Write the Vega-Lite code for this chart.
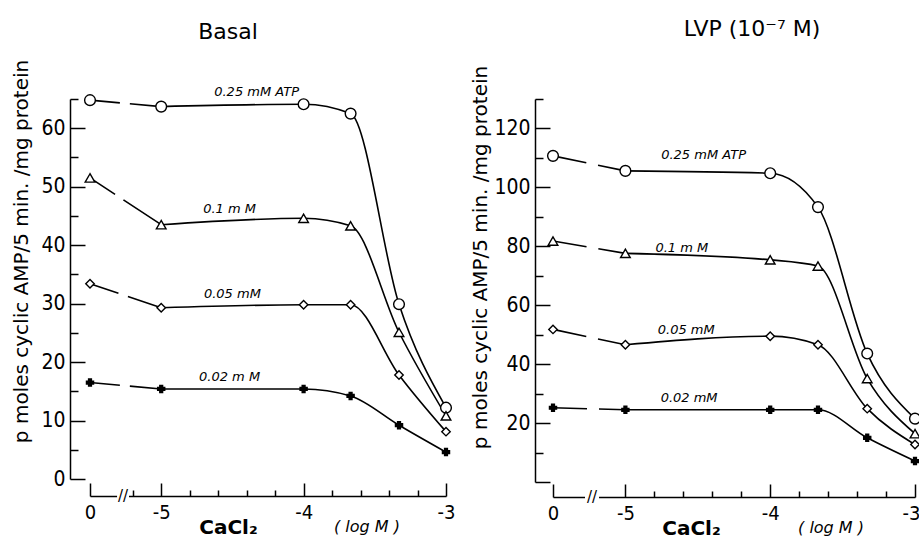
{
  "$schema": "https://vega.github.io/schema/vega-lite/v6.json",
  "padding": {"left": 10, "top": 17, "right": 0, "bottom": 0},
  "spacing": 14,
  "config": {
    "view": {"stroke": null},
    "font": "Liberation Sans Narrow, DejaVu Sans Condensed, DejaVu Sans",
    "axis": {
      "domainColor": "black", "tickColor": "black", "labelColor": "black", "titleColor": "black",
      "domainWidth": 1.5, "tickWidth": 1.5, "labelFontSize": 21, "grid": false,
      "labelFlush": false, "labelOverlap": false, "titleFontWeight": "normal",
      "labelFont": "Liberation Sans Narrow, DejaVu Sans Condensed, DejaVu Sans",
      "titleFont": "DejaVu Sans"
    },
    "title": {"fontSize": 22, "fontWeight": "normal", "font": "DejaVu Sans", "color": "black"}
  },
  "datasets": {
    "curves": [
      {"panel": "Basal", "atp": "0.25 mM ATP", "logCa": -5.5, "value": 64.8},
      {"panel": "Basal", "atp": "0.25 mM ATP", "logCa": -5, "value": 63.7},
      {"panel": "Basal", "atp": "0.25 mM ATP", "logCa": -4, "value": 64.1},
      {"panel": "Basal", "atp": "0.25 mM ATP", "logCa": -3.67, "value": 62.5},
      {"panel": "Basal", "atp": "0.25 mM ATP", "logCa": -3.33, "value": 29.9},
      {"panel": "Basal", "atp": "0.25 mM ATP", "logCa": -3, "value": 12.2},
      {"panel": "Basal", "atp": "0.1 mM", "logCa": -5.5, "value": 51.5},
      {"panel": "Basal", "atp": "0.1 mM", "logCa": -5, "value": 43.5},
      {"panel": "Basal", "atp": "0.1 mM", "logCa": -4, "value": 44.6},
      {"panel": "Basal", "atp": "0.1 mM", "logCa": -3.67, "value": 43.3},
      {"panel": "Basal", "atp": "0.1 mM", "logCa": -3.33, "value": 25.1},
      {"panel": "Basal", "atp": "0.1 mM", "logCa": -3, "value": 10.8},
      {"panel": "Basal", "atp": "0.05 mM", "logCa": -5.5, "value": 33.4},
      {"panel": "Basal", "atp": "0.05 mM", "logCa": -5, "value": 29.3},
      {"panel": "Basal", "atp": "0.05 mM", "logCa": -4, "value": 29.8},
      {"panel": "Basal", "atp": "0.05 mM", "logCa": -3.67, "value": 29.8},
      {"panel": "Basal", "atp": "0.05 mM", "logCa": -3.33, "value": 17.8},
      {"panel": "Basal", "atp": "0.05 mM", "logCa": -3, "value": 8.1},
      {"panel": "Basal", "atp": "0.02 mM", "logCa": -5.5, "value": 16.5},
      {"panel": "Basal", "atp": "0.02 mM", "logCa": -5, "value": 15.4},
      {"panel": "Basal", "atp": "0.02 mM", "logCa": -4, "value": 15.4},
      {"panel": "Basal", "atp": "0.02 mM", "logCa": -3.67, "value": 14.2},
      {"panel": "Basal", "atp": "0.02 mM", "logCa": -3.33, "value": 9.2},
      {"panel": "Basal", "atp": "0.02 mM", "logCa": -3, "value": 4.6},
      {"panel": "LVP", "atp": "0.25 mM ATP", "logCa": -5.5, "value": 110.7},
      {"panel": "LVP", "atp": "0.25 mM ATP", "logCa": -5, "value": 105.6},
      {"panel": "LVP", "atp": "0.25 mM ATP", "logCa": -4, "value": 104.8},
      {"panel": "LVP", "atp": "0.25 mM ATP", "logCa": -3.67, "value": 93.3},
      {"panel": "LVP", "atp": "0.25 mM ATP", "logCa": -3.33, "value": 43.6},
      {"panel": "LVP", "atp": "0.25 mM ATP", "logCa": -3, "value": 21.5},
      {"panel": "LVP", "atp": "0.1 mM", "logCa": -5.5, "value": 81.8},
      {"panel": "LVP", "atp": "0.1 mM", "logCa": -5, "value": 77.6},
      {"panel": "LVP", "atp": "0.1 mM", "logCa": -4, "value": 75.4},
      {"panel": "LVP", "atp": "0.1 mM", "logCa": -3.67, "value": 73.3},
      {"panel": "LVP", "atp": "0.1 mM", "logCa": -3.33, "value": 35.1},
      {"panel": "LVP", "atp": "0.1 mM", "logCa": -3, "value": 16.4},
      {"panel": "LVP", "atp": "0.05 mM", "logCa": -5.5, "value": 51.8},
      {"panel": "LVP", "atp": "0.05 mM", "logCa": -5, "value": 46.6},
      {"panel": "LVP", "atp": "0.05 mM", "logCa": -4, "value": 49.5},
      {"panel": "LVP", "atp": "0.05 mM", "logCa": -3.67, "value": 46.6},
      {"panel": "LVP", "atp": "0.05 mM", "logCa": -3.33, "value": 24.9},
      {"panel": "LVP", "atp": "0.05 mM", "logCa": -3, "value": 12.7},
      {"panel": "LVP", "atp": "0.02 mM", "logCa": -5.5, "value": 25.2},
      {"panel": "LVP", "atp": "0.02 mM", "logCa": -5, "value": 24.5},
      {"panel": "LVP", "atp": "0.02 mM", "logCa": -4, "value": 24.5},
      {"panel": "LVP", "atp": "0.02 mM", "logCa": -3.67, "value": 24.5},
      {"panel": "LVP", "atp": "0.02 mM", "logCa": -3.33, "value": 15.0},
      {"panel": "LVP", "atp": "0.02 mM", "logCa": -3, "value": 7.1}
    ],
    "labels": [
      {"panel": "Basal", "text": "0.25  mM   ATP", "logCa": -4.33, "value": 66.2},
      {"panel": "Basal", "text": "0.1  m M", "logCa": -4.52, "value": 46.2},
      {"panel": "Basal", "text": "0.05  mM", "logCa": -4.5, "value": 31.6},
      {"panel": "Basal", "text": "0.02  m M", "logCa": -4.52, "value": 17.4},
      {"panel": "LVP", "text": "0.25  mM  ATP", "logCa": -4.46, "value": 111.0},
      {"panel": "LVP", "text": "0.1  m M", "logCa": -4.61, "value": 79.4},
      {"panel": "LVP", "text": "0.05  mM", "logCa": -4.58, "value": 51.6},
      {"panel": "LVP", "text": "0.02  mM", "logCa": -4.56, "value": 28.5}
    ]
  },
  "hconcat": [
    {
      "width": 356,
      "height": 380,
      "title": {"text": "Basal", "dx": -40, "offset": 3},
      "data": {"name": "curves"},
      "transform": [{"filter": "datum.panel == 'Basal'"}],
      "encoding": {
        "x": {
          "field": "logCa", "type": "quantitative", "title": "CaCl₂",
          "scale": {"domain": [-5.5, -3], "nice": false, "zero": false},
          "axis": {
            "values": [-5.5, -5.2, -5, -4.8, -4.6, -4.4, -4.2, -4, -3.8, -3.6, -3.4, -3.2, -3],
            "labelExpr": "datum.value == -5.5 ? '0' : datum.value == -5 ? '-5' : datum.value == -4 ? '-4' : datum.value == -3 ? '-3' : ''",
            "tickSize": {"condition": {"test": "datum.value == round(datum.value) || datum.value == -5.5", "value": -13}, "value": -6},
            "labelPadding": 19, "offset": 17, "labelFontSize": 20,
            "titleX": 138, "titleY": 31, "titleBaseline": "middle", "titleAlign": "center",
            "titleFontWeight": "bold", "titleFontSize": 20
          }
        },
        "y": {
          "field": "value", "type": "quantitative", "title": "p moles  cyclic  AMP/5 min.  /mg  protein",
          "scale": {"domain": [0, 65], "nice": false, "zero": false},
          "axis": {
            "values": [0, 5, 10, 15, 20, 25, 30, 35, 40, 45, 50, 55, 60, 65],
            "labelExpr": "datum.value % 10 == 0 ? datum.label : ''",
            "tickSize": {"condition": {"test": "datum.value % 10 == 0", "value": -15}, "value": -8},
            "labelPadding": 20, "offset": 20,
            "titleX": -49, "titleY": 152, "titleAngle": -90, "titleAlign": "center", "titleBaseline": "middle",
            "titleFontSize": 20
          }
        }
      },
      "layer": [
        {
          "transform": [{"filter": "datum.logCa <= -5"}],
          "mark": {"type": "line", "color": "black", "strokeWidth": 1.6, "strokeDash": [30, 10, 200]},
          "encoding": {"detail": {"field": "atp"}}
        },
        {
          "transform": [{"filter": "datum.logCa >= -5"}],
          "mark": {"type": "line", "color": "black", "strokeWidth": 1.6, "interpolate": "monotone"},
          "encoding": {"detail": {"field": "atp"}}
        },
        {
          "mark": {"type": "point", "filled": true, "stroke": "black", "strokeWidth": 1.4, "opacity": 1},
          "encoding": {
            "shape": {"field": "atp", "scale": {"domain": ["0.25 mM ATP", "0.1 mM", "0.05 mM", "0.02 mM"], "range": ["circle", "triangle-up", "diamond", "cross"]}, "legend": null},
            "fill": {"field": "atp", "scale": {"domain": ["0.25 mM ATP", "0.1 mM", "0.05 mM", "0.02 mM"], "range": ["white", "white", "white", "black"]}, "legend": null},
            "size": {"field": "atp", "scale": {"domain": ["0.25 mM ATP", "0.1 mM", "0.05 mM", "0.02 mM"], "range": [115, 50, 90, 40]}, "legend": null}
          }
        },
        {
          "data": {"name": "labels"},
          "transform": [{"filter": "datum.panel == 'Basal'"}],
          "mark": {"type": "text", "fontStyle": "italic", "fontSize": 13, "font": "DejaVu Sans", "color": "black", "baseline": "middle"},
          "encoding": {"text": {"field": "text"}}
        },
        {
          "transform": [{"filter": "datum.atp == '0.02 mM' && datum.logCa == -3"}],
          "mark": {"type": "rule", "color": "white", "strokeWidth": 5},
          "encoding": {
            "x": {"datum": -5.31, "type": "quantitative"},
            "x2": {"datum": -5.226},
            "y": {"datum": -2.91, "type": "quantitative"}
          }
        },
        {
          "transform": [{"filter": "datum.atp == '0.02 mM' && datum.logCa == -3"}],
          "mark": {"type": "text", "text": "//", "fontSize": 15, "color": "black", "baseline": "middle", "font": "DejaVu Sans"},
          "encoding": {
            "x": {"datum": -5.268, "type": "quantitative"},
            "y": {"datum": -2.91, "type": "quantitative"}
          }
        },
        {
          "transform": [{"filter": "datum.atp == '0.02 mM' && datum.logCa == -3"}],
          "mark": {"type": "text", "text": "( log M )", "fontSize": 16, "fontStyle": "italic", "color": "black", "baseline": "middle", "font": "DejaVu Sans"},
          "encoding": {
            "x": {"datum": -3.555, "type": "quantitative"},
            "y": {"datum": -8.2, "type": "quantitative"}
          }
        }
      ]
    },
    {
      "width": 362,
      "height": 383,
      "title": {"text": "LVP  (10⁻⁷ M)", "dx": 18, "offset": 12},
      "data": {"name": "curves"},
      "transform": [{"filter": "datum.panel == 'LVP'"}],
      "encoding": {
        "x": {
          "field": "logCa", "type": "quantitative", "title": "CaCl₂",
          "scale": {"domain": [-5.5, -3], "nice": false, "zero": false},
          "axis": {
            "values": [-5.5, -5, -4.8, -4.6, -4.4, -4.2, -4, -3.8, -3.6, -3.4, -3.2, -3],
            "labelExpr": "datum.value == -5.5 ? '0' : datum.value == -5 ? '-5' : datum.value == -4 ? '-4' : datum.value == -3 ? '-3' : ''",
            "tickSize": {"condition": {"test": "datum.value == round(datum.value) || datum.value == -5.5", "value": -13}, "value": -6},
            "labelAlign": {"condition": {"test": "datum.value == -3", "value": "right"}, "value": "center"},
            "labelOffset": {"condition": {"test": "datum.value == -3", "value": 5}, "value": 0},
            "labelPadding": 19, "offset": 15, "labelFontSize": 20,
            "titleX": 138, "titleY": 31, "titleBaseline": "middle", "titleAlign": "center",
            "titleFontWeight": "bold", "titleFontSize": 20
          }
        },
        "y": {
          "field": "value", "type": "quantitative", "title": "p moles  cyclic  AMP/5 min.  /mg  protein",
          "scale": {"domain": [0, 130], "nice": false, "zero": false},
          "axis": {
            "values": [0, 10, 20, 30, 40, 50, 60, 70, 80, 90, 100, 110, 120, 130],
            "labelExpr": "datum.value % 20 == 0 && datum.value > 0 ? datum.label : ''",
            "tickSize": {"condition": {"test": "datum.value % 20 == 0", "value": -15}, "value": -8},
            "labelPadding": 20, "offset": 18,
            "titleX": -55, "titleY": 158, "titleAngle": -90, "titleAlign": "center", "titleBaseline": "middle",
            "titleFontSize": 20
          }
        }
      },
      "layer": [
        {
          "transform": [{"filter": "datum.logCa <= -5"}],
          "mark": {"type": "line", "color": "black", "strokeWidth": 1.6, "strokeDash": [34, 12, 200]},
          "encoding": {"detail": {"field": "atp"}}
        },
        {
          "transform": [{"filter": "datum.logCa >= -5"}],
          "mark": {"type": "line", "color": "black", "strokeWidth": 1.6, "interpolate": "monotone"},
          "encoding": {"detail": {"field": "atp"}}
        },
        {
          "mark": {"type": "point", "filled": true, "stroke": "black", "strokeWidth": 1.4, "opacity": 1},
          "encoding": {
            "shape": {"field": "atp", "scale": {"domain": ["0.25 mM ATP", "0.1 mM", "0.05 mM", "0.02 mM"], "range": ["circle", "triangle-up", "diamond", "cross"]}, "legend": null},
            "fill": {"field": "atp", "scale": {"domain": ["0.25 mM ATP", "0.1 mM", "0.05 mM", "0.02 mM"], "range": ["white", "white", "white", "black"]}, "legend": null},
            "size": {"field": "atp", "scale": {"domain": ["0.25 mM ATP", "0.1 mM", "0.05 mM", "0.02 mM"], "range": [115, 50, 90, 40]}, "legend": null}
          }
        },
        {
          "data": {"name": "labels"},
          "transform": [{"filter": "datum.panel == 'LVP'"}],
          "mark": {"type": "text", "fontStyle": "italic", "fontSize": 13, "font": "DejaVu Sans", "color": "black", "baseline": "middle"},
          "encoding": {"text": {"field": "text"}}
        },
        {
          "transform": [{"filter": "datum.atp == '0.02 mM' && datum.logCa == -3"}],
          "mark": {"type": "rule", "color": "white", "strokeWidth": 5},
          "encoding": {
            "x": {"datum": -5.279, "type": "quantitative"},
            "x2": {"datum": -5.182},
            "y": {"datum": -5.09, "type": "quantitative"}
          }
        },
        {
          "transform": [{"filter": "datum.atp == '0.02 mM' && datum.logCa == -3"}],
          "mark": {"type": "text", "text": "//", "fontSize": 15, "color": "black", "baseline": "middle", "font": "DejaVu Sans"},
          "encoding": {
            "x": {"datum": -5.231, "type": "quantitative"},
            "y": {"datum": -5.09, "type": "quantitative"}
          }
        },
        {
          "transform": [{"filter": "datum.atp == '0.02 mM' && datum.logCa == -3"}],
          "mark": {"type": "text", "text": "( log M )", "fontSize": 16, "fontStyle": "italic", "color": "black", "baseline": "middle", "font": "DejaVu Sans"},
          "encoding": {
            "x": {"datum": -3.58, "type": "quantitative"},
            "y": {"datum": -15.6, "type": "quantitative"}
          }
        }
      ]
    }
  ]
}
